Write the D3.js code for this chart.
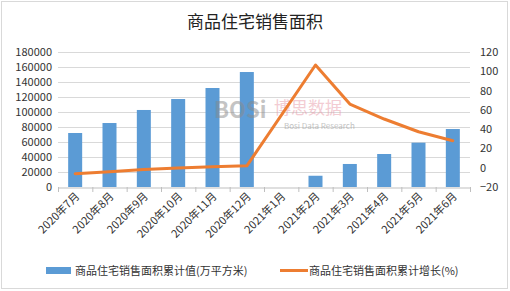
<!DOCTYPE html>
<html>
<head>
<meta charset="utf-8">
<script src="https://cdn.jsdelivr.net/npm/d3@7"></script>
<style>
  body { margin: 0; background: #fff; }
  text { font-family: "Noto Sans CJK SC", "Microsoft YaHei", sans-serif; }
</style>
</head>
<body>
<script>
// data
const months = ['2020年7月','2020年8月','2020年9月','2020年10月','2020年11月','2020年12月',
                '2021年1月','2021年2月','2021年3月','2021年4月','2021年5月','2021年6月'];
const areaValues = [72000, 85300, 102700, 117300, 132000, 153300, null, 15000, 30700, 44000, 59100, 77300];
const growthValues = [-6.2, -4.1, -1.8, -0.3, 1.0, 2.0, null, 106.5, 66, 50.5, 37.3, 28];
const leftTicks = [0, 20000, 40000, 60000, 80000, 100000, 120000, 140000, 160000, 180000];
const rightTicks = [-20, 0, 20, 40, 60, 80, 100, 120];
const barName = '商品住宅销售面积累计值(万平方米)';
const lineName = '商品住宅销售面积累计增长(%)';

const W = 510, H = 291;
const svg = d3.select('body').append('svg')
  .attr('width', W).attr('height', H);

svg.append('rect').attr('x', 1.5).attr('y', 1.5).attr('width', W - 4).attr('height', H - 4)
  .attr('fill', '#fff').attr('stroke', '#d9d9d9');

const x = d3.scaleBand().domain(months).range([58, 470]);
const yL = d3.scaleLinear().domain([0, 180000]).range([187, 52]);
const yR = d3.scaleLinear().domain([-20, 120]).range([187, 52]);

// title
svg.append('text').attr('x', 255).attr('y', 28).attr('text-anchor', 'middle')
  .attr('font-size', 17).attr('fill', '#222').text('商品住宅销售面积');

// gridlines
svg.append('g').selectAll('line').data(leftTicks.slice(1)).enter().append('line')
  .attr('x1', 58).attr('x2', 470)
  .attr('y1', d => yL(d) + 0.5).attr('y2', d => yL(d) + 0.5)
  .attr('stroke', '#d9d9d9');

// bars
const bw = 14;
svg.append('g').selectAll('rect').data(areaValues.map((v, i) => ({m: months[i], v})).filter(d => d.v != null))
  .enter().append('rect')
  .attr('x', d => x(d.m) + x.bandwidth() / 2 - bw / 2)
  .attr('width', bw)
  .attr('y', d => yL(d.v))
  .attr('height', d => yL(0) - yL(d.v))
  .attr('fill', '#5b9bd5');

// watermark (sits over the bars)
const wm = svg.append('g').attr('opacity', 0.5);
wm.append('text').attr('x', 214).attr('y', 118).attr('font-size', 22).attr('font-weight', 'bold')
  .attr('fill', '#8a8a8a').attr('font-family', 'DejaVu Sans').text('BOSi');
wm.append('text').attr('x', 274).attr('y', 114).attr('font-size', 17)
  .attr('fill', '#e89aa8').text('博思数据');
wm.append('text').attr('x', 284).attr('y', 129).attr('font-size', 8)
  .attr('fill', '#888').attr('font-family', 'Liberation Sans').text('Bosi Data Research');

// x axis
const xAxis = svg.append('g').attr('transform', 'translate(0,187.5)')
  .call(d3.axisBottom(x).tickSize(0).tickFormat(''));
xAxis.select('.domain').attr('stroke', '#bfbfbf');
svg.append('g').selectAll('line').data(d3.range(months.length + 1)).enter().append('line')
  .attr('x1', i => 58 + i * x.step() + 0.5).attr('x2', i => 58 + i * x.step() + 0.5)
  .attr('y1', 187).attr('y2', 192).attr('stroke', '#bfbfbf');

svg.append('g').selectAll('text').data(months).enter().append('text')
  .attr('transform', d => `translate(${x(d) + x.bandwidth() / 2 + 5},197) rotate(-45)`)
  .attr('text-anchor', 'end').attr('font-size', 11).attr('fill', '#333').text(d => d);

// left axis
const left = svg.append('g').attr('transform', 'translate(58,0)')
  .call(d3.axisLeft(yL).tickValues(leftTicks).tickSize(0).tickPadding(6).tickFormat(d3.format('d')));
left.select('.domain').remove();
left.selectAll('text').attr('font-size', 11).attr('fill', '#333').attr('font-family', 'Liberation Sans, Arial');

// right axis
const right = svg.append('g').attr('transform', 'translate(470,0)')
  .call(d3.axisRight(yR).tickValues(rightTicks).tickSize(0).tickPadding(10));
right.select('.domain').remove();
right.selectAll('text').attr('font-size', 11).attr('fill', '#333').attr('font-family', 'Liberation Sans, Arial');

// line
const line = d3.line()
  .x(d => x(d.m) + x.bandwidth() / 2)
  .y(d => yR(d.v));
svg.append('path')
  .datum(growthValues.map((v, i) => ({m: months[i], v})).filter(d => d.v != null))
  .attr('d', line)
  .attr('fill', 'none').attr('stroke', '#ed7d31').attr('stroke-width', 3)
  .attr('stroke-linejoin', 'round').attr('stroke-linecap', 'round');

// legend
const lg = svg.append('g');
lg.append('rect').attr('x', 46).attr('y', 267).attr('width', 25).attr('height', 7).attr('fill', '#5b9bd5');
lg.append('text').attr('x', 75).attr('y', 275).attr('font-size', 11).attr('fill', '#333').text(barName);
lg.append('line').attr('x1', 280).attr('x2', 308).attr('y1', 270.5).attr('y2', 270.5)
  .attr('stroke', '#ed7d31').attr('stroke-width', 3);
lg.append('text').attr('x', 309).attr('y', 275).attr('font-size', 11).attr('fill', '#333').text(lineName);
</script>
</body>
</html>
